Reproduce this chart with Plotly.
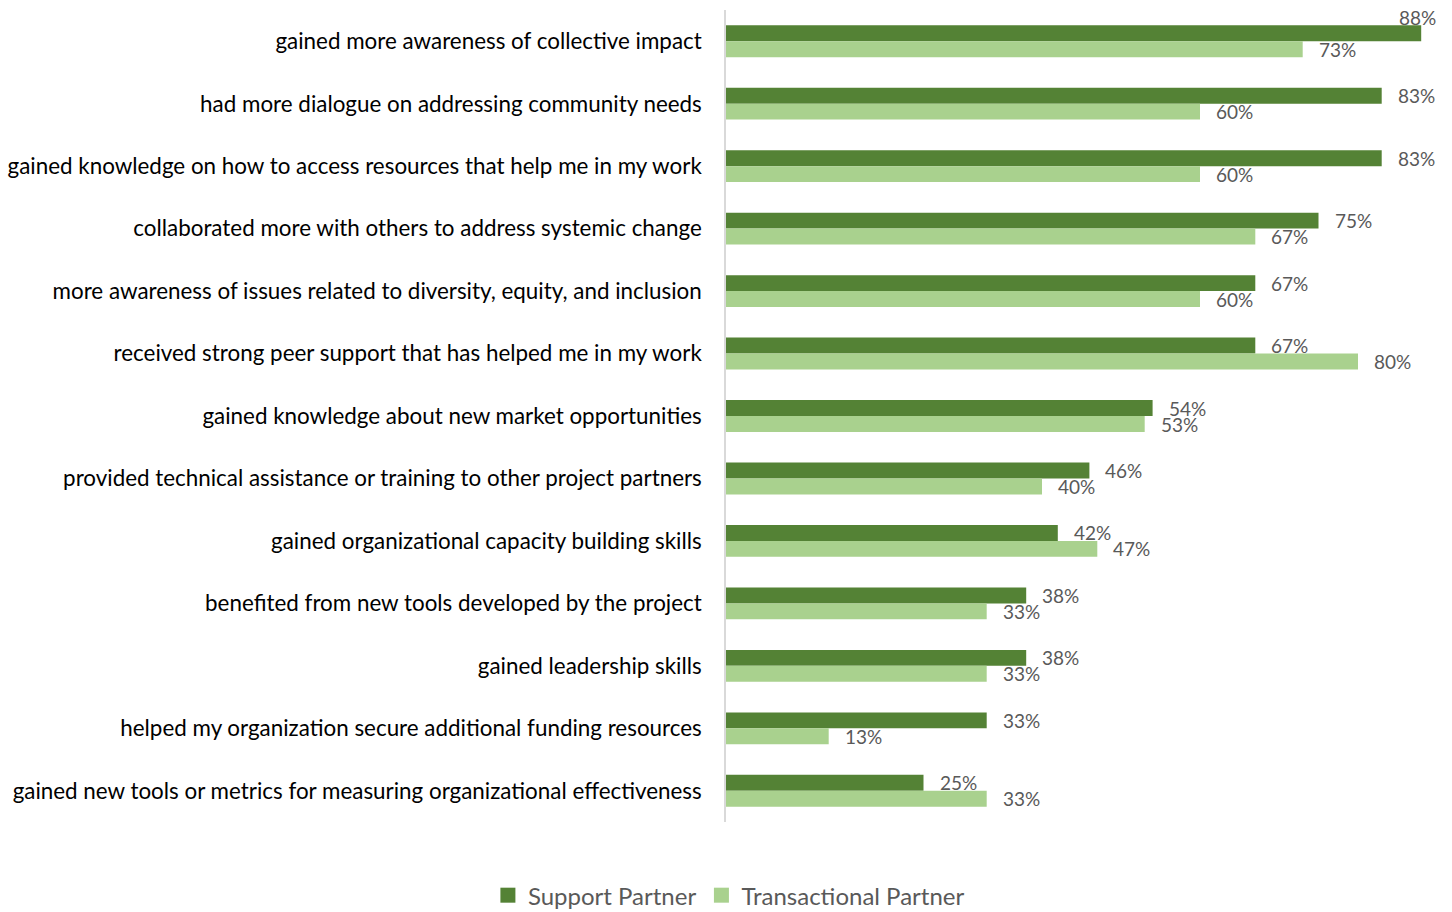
import plotly.graph_objects as go

categories = [
    "gained more awareness of collective impact",
    "had more dialogue on addressing community needs",
    "gained knowledge on how to access resources that help me in my work",
    "collaborated more with others to address systemic change",
    "more awareness of issues related to diversity, equity, and inclusion",
    "received strong peer support that has helped me in my work",
    "gained knowledge about new market opportunities",
    "provided technical assistance or training to other project partners",
    "gained organizational capacity building skills",
    "benefited from new tools developed by the project",
    "gained leadership skills",
    "helped my organization secure additional funding resources",
    "gained new tools or metrics for measuring organizational effectiveness",
]
support_partner = [88, 83, 83, 75, 67, 67, 54, 46, 42, 38, 38, 33, 25]
transactional_partner = [73, 60, 60, 67, 60, 80, 53, 40, 47, 33, 33, 13, 33]

DARK = "#548235"
LIGHT = "#A9D18E"
LABEL_GREY = "#595959"
FONT = "Lato"
X_MAX = 90

fig = go.Figure()
series = [
    ("Support Partner", support_partner, DARK, 8),
    ("Transactional Partner", transactional_partner, LIGHT, -8),
]
for name, vals, color, _ in series:
    fig.add_trace(go.Bar(
        name=name,
        y=categories,
        x=vals,
        orientation="h",
        marker=dict(color=color, line=dict(width=0)),
        showlegend=False,
        hovertemplate="%{y}: %{x}%<extra>" + name + "</extra>",
    ))

# legend keys drawn as larger solid squares
for name, _, color, _ in series:
    fig.add_trace(go.Scatter(
        name=name,
        x=[None], y=[None],
        mode="markers",
        marker=dict(symbol="square", size=15, color=color),
        showlegend=True,
        hoverinfo="skip",
    ))

# value labels just past the end of each bar; a label that would run past
# the right edge is tucked back over the end of its bar instead
for name, vals, color, yshift in series:
    for cat, v in zip(categories, vals):
        overflow = v > X_MAX - 5
        fig.add_annotation(
            x=v, y=cat, xref="x", yref="y",
            text=f"{v}%",
            showarrow=False,
            xanchor="right" if overflow else "left",
            xshift=17 if overflow else 14,
            yshift=yshift + (16 if overflow else 0),
            font=dict(family=FONT, size=19, color=LABEL_GREY),
        )

fig.update_layout(
    barmode="group",
    bargap=0.49,
    bargroupgap=0,
    width=1452,
    height=912,
    margin=dict(l=726, r=15, t=10, b=90),
    plot_bgcolor="white",
    paper_bgcolor="white",
    font=dict(family=FONT, color="black"),
    showlegend=True,
    legend=dict(
        orientation="h",
        xref="container", yref="container",
        x=0.502, xanchor="center",
        y=0.018, yanchor="middle",
        font=dict(family=FONT, size=24, color=LABEL_GREY),
        itemsizing="trace",
        traceorder="normal",
    ),
)
fig.update_xaxes(
    range=[0, X_MAX],
    visible=False,
    showgrid=False,
    zeroline=False,
)
fig.update_yaxes(
    autorange="reversed",
    automargin=False,
    showline=True,
    linecolor="#D9D9D9",
    linewidth=1.5,
    showgrid=False,
    ticks="",
    ticklabelstandoff=18,
    tickfont=dict(family=FONT, size=22.4, color="black"),
)

fig.write_html("out.html")
